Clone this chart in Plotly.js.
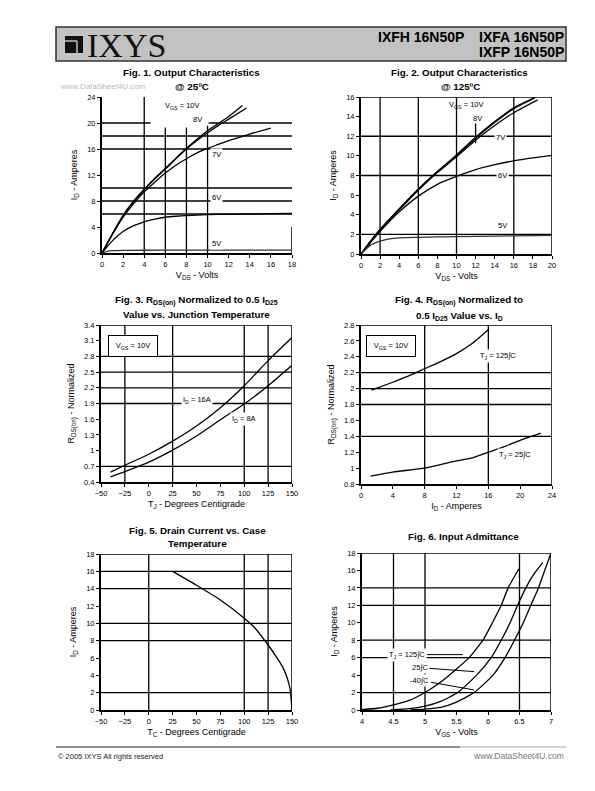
<!DOCTYPE html>
<html><head><meta charset="utf-8">
<script src="https://cdn.plot.ly/plotly-3.0.1.min.js"></script>
<style>html,body{margin:0;padding:0;background:#fff;} #chart{width:595px;height:791px;}</style>
</head><body><div id="chart"></div>
<script>
// ---------- DATA ----------
// Fig.1 Output characteristics @ 25ºC
const f1_vgs10_x=[0,1,2,3,4,5,6,7,8,9,10,11,12,13.3];
const f1_vgs10_y=[0,3.0,5.8,8.0,9.8,11.5,13.0,14.6,16.1,17.5,18.8,19.9,21.0,22.7];
const f1_vgs8_x=[0,1,2,3,4,5,6,7,8,9,10,11,12,13.7];
const f1_vgs8_y=[0,2.95,5.7,7.9,9.7,11.4,12.9,14.5,16.0,17.3,18.5,19.6,20.6,22.3];
const f1_vgs7_x=[0,1,2,3,4,5,6,7,8,9,10,11,12,14,16];
const f1_vgs7_y=[0,2.9,5.5,7.6,9.4,10.9,12.3,13.5,14.5,15.4,16.1,16.7,17.3,18.3,19.2];
const f1_vgs6_x=[0,0.5,1,2,3,4,5,6,7,8,10,12,14,16,18];
const f1_vgs6_y=[0,1.0,1.9,3.3,4.2,4.8,5.2,5.5,5.65,5.75,5.9,5.95,6.0,6.05,6.1];
const f1_vgs5_x=[0,0.5,1,2,4,8,18];
const f1_vgs5_y=[0,0.25,0.35,0.4,0.42,0.45,0.45];
const f1_xticks=[0,2,4,6,8,10,12,14,16,18];
const f1_yticks=[0,4,8,12,16,20,24];

// Fig.2 Output characteristics @ 125ºC
const f2_vgs10_x=[0,1,2,4,6,8,10,12,14,16,18.3];
const f2_vgs10_y=[0,1.3,2.5,4.6,6.6,8.4,10.1,11.9,13.5,14.9,16.0];
const f2_vgs8_x=[0,1,2,4,6,8,10,12,14,16,18.2];
const f2_vgs8_y=[0,1.3,2.5,4.6,6.6,8.4,10.0,11.8,13.4,14.8,15.9];
const f2_vgs7_x=[0,1,2,4,6,8,10,12,14,16,18.5];
const f2_vgs7_y=[0,1.25,2.4,4.5,6.5,8.3,9.9,11.6,13.1,14.4,15.7];
const f2_vgs6_x=[0,2,4,6,8,10,12,14,16,18,20];
const f2_vgs6_y=[0,2.3,4.3,5.9,7.1,7.9,8.6,9.1,9.5,9.8,10.05];
const f2_vgs5_x=[0,1,2,3,4,6,8,12,16,20];
const f2_vgs5_y=[0,0.9,1.3,1.55,1.65,1.7,1.75,1.8,1.85,1.9];
const f2_xticks=[0,2,4,6,8,10,12,14,16,18,20];
const f2_yticks=[0,2,4,6,8,10,12,14,16];

// Fig.3 RDS(on) vs junction temperature
const f3_tj=[-40,-25,0,25,50,75,100,125,150];
const f3_id16=[0.59,0.72,0.93,1.18,1.47,1.82,2.24,2.72,3.16];
const f3_id8=[0.50,0.60,0.78,1.01,1.28,1.59,1.89,2.24,2.63];
const f3_xticks=[-50,-25,0,25,50,75,100,125,150];
const f3_yticks=[0.4,0.7,1,1.3,1.6,1.9,2.2,2.5,2.8,3.1,3.4];
const f3_yticktext=['0.4','0.7','1','1.3','1.6','1.9','2.2','2.5','2.8','3.1','3.4'];

// Fig.4 RDS(on) vs ID
const f4_t125_x=[1.3,4,6,8,10,12,14,16.1];
const f4_t125_y=[1.98,2.08,2.16,2.25,2.34,2.44,2.57,2.75];
const f4_t25_x=[1.2,4,8,12,14,16,18,20,22.6];
const f4_t25_y=[0.90,0.95,1.0,1.09,1.13,1.2,1.27,1.35,1.44];
const f4_xticks=[0,4,8,12,16,20,24];
const f4_yticks=[0.8,1,1.2,1.4,1.6,1.8,2,2.2,2.4,2.6,2.8];
const f4_yticktext=['0.8','1','1.2','1.4','1.6','1.8','2','2.2','2.4','2.6','2.8'];

// Fig.5 Drain current vs case temperature
const f5_tc=[25,50,75,100,110,125,135,140,145,148,150];
const f5_id=[16,14.4,12.7,10.6,9.6,7.5,5.9,5.0,3.7,2.4,0];
const f5_xticks=[-50,-25,0,25,50,75,100,125,150];
const f5_yticks=[0,2,4,6,8,10,12,14,16,18];

// Fig.6 Input admittance
const f6_t125_x=[4.0,4.25,4.5,4.75,5.0,5.25,5.5,5.7,5.92,6.07,6.21,6.32,6.49];
const f6_t125_y=[0.05,0.2,0.6,1.1,2.0,3.2,4.7,6.0,8.0,10.0,12.0,14.0,16.2];
const f6_t25_x=[4.45,4.75,5.0,5.25,5.52,5.82,6.05,6.21,6.35,6.47,6.6,6.73,6.87];
const f6_t25_y=[0,0.15,0.45,1.0,2.0,4.0,6.0,8.0,10.0,12.0,14.0,15.6,16.9];
const f6_tm40_x=[4.77,5.0,5.25,5.5,5.78,6.08,6.27,6.42,6.56,6.68,6.8,6.9,7.0];
const f6_tm40_y=[0,0.1,0.3,0.9,2.0,4.0,6.0,8.0,10.0,12.0,14.0,16.0,18.0];
const f6_xticks=[4,4.5,5,5.5,6,6.5,7];
const f6_xticktext=['4','4.5','5','5.5','6','6.5','7'];
const f6_yticks=[0,2,4,6,8,10,12,14,16,18];

// ---------- LAYOUT HELPERS ----------
const W=595,H=791;
const FONT='"Liberation Sans", Arial, sans-serif';
const dx=px=>px/W, dy=py=>1-py/H;

function axis(dom, range, tv, tt, title, standoff, anchor){
  const a={domain:dom, range:range, tickmode:'array', tickvals:tv, showgrid:false, zeroline:false,
    showline:true, linewidth:2, linecolor:'black', ticks:'outside', ticklen:3, tickwidth:1, tickcolor:'black',
    tickfont:{family:FONT,size:7.5,color:'black'}, fixedrange:true, automargin:false, anchor:anchor,
    title:{text:title, font:{family:FONT,size:9,color:'black'}, standoff:standoff}};
  if(tt) a.ticktext=tt;
  return a;
}
function line(n,x,y,opts){
  return Object.assign({type:'scatter',mode:'lines',x:x,y:y,xaxis:n===1?'x':'x'+n,yaxis:n===1?'y':'y'+n,
    line:{color:'black',width:1.3,shape:'spline',smoothing:0.5},hoverinfo:'skip',showlegend:false},opts||{});
}
const shapes=[];
function ref(n){return n===1?'':String(n);}
function vl(n,x,y0,y1,w){shapes.push({type:'line',xref:'x'+ref(n),yref:'y'+ref(n),x0:x,x1:x,y0:y0,y1:y1,line:{color:'black',width:w||1.3},layer:'below'});}
function hl(n,y,x0,x1,w){shapes.push({type:'line',xref:'x'+ref(n),yref:'y'+ref(n),x0:x0,x1:x1,y0:y,y1:y,line:{color:'black',width:w||1.3},layer:'below'});}

// Fig1 grid
vl(1,4,0,24); vl(1,6,0,19.3); vl(1,8,0,19.3); vl(1,10,0,19.6);
hl(1,20,0,4.6); hl(1,20,10.1,18); [18,16,10,8,6].forEach(v=>hl(1,v,0,18));
vl(1,18,0,4,1.5);
// Fig2 grid
[2,6,10,16].forEach(v=>vl(2,v,0,16)); vl(2,12,11.3,13.3);
[12,8,2].forEach(v=>hl(2,v,0,20)); hl(2,16,0,20,1.5); vl(2,20,0,16,1.5);
// Fig3 grid
[-25,25,100,125].forEach(v=>vl(3,v,0.4,3.4)); [2.8,2.5,2.2,1.9,0.7].forEach(v=>hl(3,v,-50,150));
hl(3,3.4,-50,150,1.5); vl(3,150,0.4,3.4,1.5);
// Fig4 grid
[8,16].forEach(v=>vl(4,v,0.8,2.8)); [2.2,2.0,1.8,1.4].forEach(v=>hl(4,v,0,24));
hl(4,2.8,0,24,1.5); vl(4,24,0.8,2.8,1.5);
// Fig5 grid
[0,100,125].forEach(v=>vl(5,v,0,18)); [16,14,10,8,2].forEach(v=>hl(5,v,-50,150));
hl(5,18,-50,150,1.5); vl(5,150,0,18,1.5);
// Fig6 grid
[4.5,5,6.5].forEach(v=>vl(6,v,0,18)); [14,12,8,6,2].forEach(v=>hl(6,v,4,7));
hl(6,18,4,7,1.5); vl(6,7,0,18,1.5);

// header
shapes.push({type:'rect',xref:'paper',yref:'paper',x0:dx(56),x1:dx(566),y0:dy(61),y1:dy(27),fillcolor:'#c2c2c2',line:{color:'#333',width:1.5}});
shapes.push({type:'rect',xref:'paper',yref:'paper',x0:dx(65),x1:dx(83),y0:dy(53),y1:dy(36),fillcolor:'#111',line:{width:0}});
shapes.push({type:'line',xref:'paper',yref:'paper',x0:dx(65),x1:dx(77),y0:dy(41),y1:dy(41),line:{color:'#c2c2c2',width:1.5}});
shapes.push({type:'line',xref:'paper',yref:'paper',x0:dx(77),x1:dx(77),y0:dy(41),y1:dy(53),line:{color:'#c2c2c2',width:1.5}});
// footer
shapes.push({type:'line',xref:'paper',yref:'paper',x0:dx(56),x1:dx(460),y0:dy(747),y1:dy(747),line:{color:'#222',width:1.2}});
shapes.push({type:'line',xref:'paper',yref:'paper',x0:dx(460),x1:dx(566),y0:dy(747),y1:dy(747),line:{color:'#aaa',width:1.2}});

// ---------- TRACES ----------
const grayLine={line:{color:'#333',width:1.3,shape:'spline',smoothing:0.5}};
const data=[
  line(1,f1_vgs10_x,f1_vgs10_y), line(1,f1_vgs8_x,f1_vgs8_y), line(1,f1_vgs7_x,f1_vgs7_y),
  line(1,f1_vgs6_x,f1_vgs6_y), line(1,f1_vgs5_x,f1_vgs5_y,grayLine),
  line(2,f2_vgs10_x,f2_vgs10_y), line(2,f2_vgs8_x,f2_vgs8_y), line(2,f2_vgs7_x,f2_vgs7_y),
  line(2,f2_vgs6_x,f2_vgs6_y), line(2,f2_vgs5_x,f2_vgs5_y,grayLine),
  line(3,f3_tj,f3_id16), line(3,f3_tj,f3_id8),
  line(4,f4_t125_x,f4_t125_y), line(4,f4_t25_x,f4_t25_y),
  line(5,f5_tc,f5_id),
  line(6,f6_t125_x,f6_t125_y), line(6,f6_t25_x,f6_t25_y), line(6,f6_tm40_x,f6_tm40_y)
];

// ---------- ANNOTATIONS ----------
const A=[];
function pt(text,x,y,size,opts){A.push(Object.assign({xref:'paper',yref:'paper',x:dx(x),y:dy(y),text:text,showarrow:false,
  xanchor:'center',yanchor:'middle',font:{family:FONT,size:size||9,color:'black'}},opts||{}));}
function lab(n,text,x,y,opts){A.push(Object.assign({xref:'x'+ref(n),yref:'y'+ref(n),x:x,y:y,text:text,showarrow:false,
  xanchor:'center',yanchor:'middle',font:{family:FONT,size:7.5,color:'black'},bgcolor:'white',borderpad:1},opts||{}));}

// header text
pt('IXYS',85,45,34,{xanchor:'left',font:{family:'"Liberation Serif", "Times New Roman", serif',size:34,color:'#111'}});
pt('<b>IXFH 16N50P</b>',376,37,14,{xanchor:'left'});
pt('<b>IXFA 16N50P</b>',566,37,14,{xanchor:'right'});
pt('<b>IXFP 16N50P</b>',566,52,14,{xanchor:'right'});
pt('www.DataSheet4U.com',58,87,8,{xanchor:'left',font:{family:FONT,size:8,color:'#bbb'}});
// footer
pt('© 2005 IXYS All rights reserved',56,756,7.5,{xanchor:'left',font:{family:FONT,size:7.5,color:'#222'}});
pt('www.DataSheet4U.com',566,756,8.5,{xanchor:'right',font:{family:FONT,size:8.5,color:'#777'}});

// figure titles
const TS=9.8;
pt('<b>Fig. 1. Output Characteristics</b>',191,72,TS);
pt('<b>@ 25ºC</b>',192,86,TS);
pt('<b>Fig. 2. Output Characteristics</b>',459,72,TS);
pt('<b>@ 125ºC</b>',460,86,TS);
pt('<b>Fig. 3. R<sub>DS(on)</sub> Normalized to 0.5 I<sub>D25</sub></b>',196,301,TS);
pt('<b>Value vs. Junction Temperature</b>',196,315,TS);
pt('<b>Fig. 4. R<sub>DS(on)</sub> Normalized to</b>',459,301,TS);
pt('<b>0.5 I<sub>D25</sub> Value vs. I<sub>D</sub></b>',459,316,TS);
pt('<b>Fig. 5. Drain Current vs. Case</b>',197,530,TS);
pt('<b>Temperature</b>',197,543,TS);
pt('<b>Fig. 6. Input Admittance</b>',463,536,TS);

// in-plot labels
lab(1,'V<sub>GS</sub> = 10V',7.6,22.6,{bgcolor:'rgba(0,0,0,0)'});
lab(1,'8V',9.0,20.6,{bgcolor:'rgba(0,0,0,0)'});
lab(1,'7V',10.8,15.1);
lab(1,'6V',10.8,8.5);
lab(1,'5V',10.8,1.4);
lab(2,'V<sub>GS</sub> = 10V',11,15.2,{bgcolor:'rgba(0,0,0,0)'});
lab(2,'8V',12.2,13.8,{bgcolor:'rgba(0,0,0,0)'});
lab(2,'7V',14.6,11.9);
lab(2,'6V',14.8,8.0);
lab(2,'5V',14.8,2.9);
lab(3,'V<sub>GS</sub> = 10V',-17,2.99,{bordercolor:'black',borderwidth:1,borderpad:4,width:40,height:12});
lab(3,'I<sub>D</sub> = 16A',50,1.96);
lab(3,'I<sub>D</sub> = 8A',100,1.6);
lab(4,'V<sub>GS</sub> = 10V',3.8,2.53,{bordercolor:'black',borderwidth:1,borderpad:4,width:40,height:12});
lab(4,'T<sub>J</sub> = 125∫C',17.2,2.41);
lab(4,'T<sub>J</sub> = 25∫C',19.3,1.17);
const arrowOpts=n=>({showarrow:true,arrowhead:0,arrowwidth:1,arrowcolor:'black',axref:'x'+ref(n),ayref:'y'+ref(n)});
lab(6,'T<sub>J</sub> = 125∫C',5.6,6.35,Object.assign(arrowOpts(6),{ax:4.72,ay:6.35}));
lab(6,'25∫C',5.78,4.4,Object.assign(arrowOpts(6),{ax:4.92,ay:4.85}));
lab(6,'-40∫C',5.78,2.3,Object.assign(arrowOpts(6),{ax:4.92,ay:3.4}));

// ---------- AXES ----------
const X1=[dx(102),dx(292)], X2=[dx(361),dx(552)];
const layout={
  width:W,height:H,margin:{l:0,r:0,t:0,b:0},paper_bgcolor:'white',plot_bgcolor:'white',showlegend:false,
  font:{family:FONT,color:'black'},
  xaxis: axis(X1,[0,18],f1_xticks,null,'V<sub>DS</sub> - Volts',4,'y'),
  yaxis: axis([dy(253),dy(97)],[0,24],f1_yticks,null,'I<sub>D</sub> - Amperes',8,'x'),
  xaxis2:axis(X2,[0,20],f2_xticks,null,'V<sub>DS</sub> - Volts',4,'y2'),
  yaxis2:axis([dy(254),dy(97)],[0,16],f2_yticks,null,'I<sub>D</sub> - Amperes',8,'x2'),
  xaxis3:axis([dx(101),dx(292)],[-50,150],f3_xticks,null,'T<sub>J</sub> - Degrees Centigrade',4,'y3'),
  yaxis3:axis([dy(482),dy(325)],[0.4,3.4],f3_yticks,f3_yticktext,'R<sub>DS(on)</sub> - Normalized',8,'x3'),
  xaxis4:axis([dx(361),dx(552)],[0,24],f4_xticks,null,'I<sub>D</sub> - Amperes',4,'y4'),
  yaxis4:axis([dy(484),dy(325)],[0.8,2.8],f4_yticks,f4_yticktext,'R<sub>DS(on)</sub> - Normalized',8,'x4'),
  xaxis5:axis([dx(101),dx(292)],[-50,150],f5_xticks,null,'T<sub>C</sub> - Degrees Centigrade',4,'y5'),
  yaxis5:axis([dy(710),dy(554)],[0,18],f5_yticks,null,'I<sub>D</sub> - Amperes',8,'x5'),
  xaxis6:axis([dx(362),dx(551)],[4,7],f6_xticks,f6_xticktext,'V<sub>GS</sub> - Volts',4,'y6'),
  yaxis6:axis([dy(710),dy(553)],[0,18],f6_yticks,null,'I<sub>D</sub> - Amperes',8,'x6'),
  shapes:shapes, annotations:A
};
Plotly.newPlot('chart',data,layout,{displayModeBar:false,staticPlot:true});
</script></body></html>
